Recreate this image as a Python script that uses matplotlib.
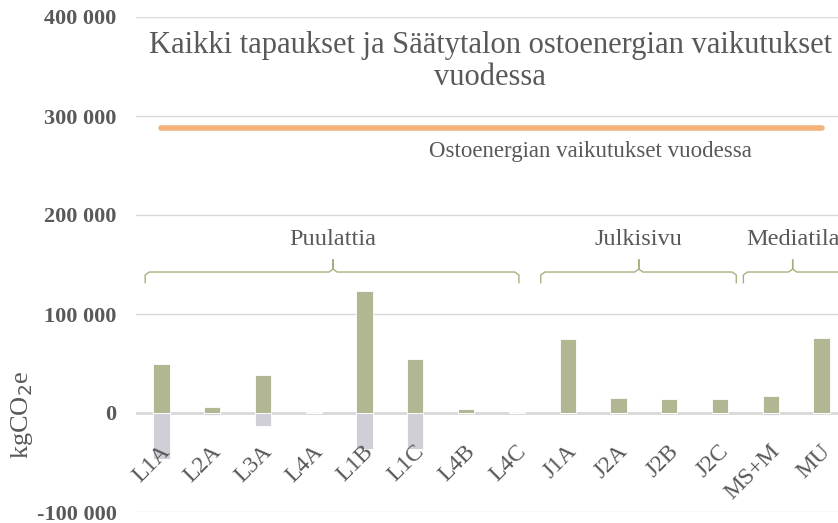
import matplotlib
matplotlib.use("Agg")
import matplotlib.pyplot as plt
import numpy as np

# Cases and their yearly emission effects (kgCO2e)
categories = ["L1A", "L2A", "L3A", "L4A", "L1B", "L1C", "L4B", "L4C",
              "J1A", "J2A", "J2B", "J2C", "MS+M", "MU"]
positive = [50000, 6000, 38700, 1300, 122800, 54500, 3600, 1300,
            75000, 15400, 14400, 13700, 16800, 75700]
negative = [-46000, -2400, -13500, 0, -36000, -36000, 0, 0,
            0, 0, 0, 0, -2000, 0]
purchased_energy = 288000  # Säätytalo purchased energy, per year

groups = ["Puulattia", "Julkisivu", "Mediatila"]
group_spans = [(-0.32, 7.04, 3.38), (7.47, 11.32, 9.40), (11.46, 13.40, 12.43)]

yticks = [-100000, 0, 100000, 200000, 300000, 400000]
ytick_labels = ["-100 000", "0", "100 000", "200 000", "300 000", "400 000"]

FONT = "Liberation Serif"
TXT = "#595959"
GREEN = "#b2b693"
GREY = "#d0cfd8"
ORANGE = "#f4b37a"
BRACE = "#a9b07f"

fig = plt.figure(figsize=(8.38, 5.23), dpi=100)
ax = fig.add_axes([136 / 838, 11 / 523, 711 / 838, 495 / 523])
ax.set_xlim(-0.5, len(categories) - 0.5)
ax.set_ylim(-100000, 400000)

x = np.arange(len(categories))
ax.bar(x, positive, width=0.32, color=GREEN, edgecolor="white", linewidth=0.6, zorder=3)
ax.bar(x, negative, width=0.32, color=GREY, edgecolor="white", linewidth=0.6, zorder=3)

# Purchased energy reference line
ax.plot([x[0], x[-1]], [purchased_energy, purchased_energy], color=ORANGE,
        lw=4, solid_capstyle="round", zorder=4)
ax.text(x[-1] - 4.55, purchased_energy - 24000, "Ostoenergian vaikutukset vuodessa",
        ha="center", va="center", fontsize=16.5, color=TXT, family=FONT)

# Gridlines and axes
for s in ax.spines.values():
    s.set_visible(False)
ax.set_yticks(yticks)
ax.set_yticklabels(ytick_labels)
ax.yaxis.grid(True, color="#d9d9d9", lw=1)
ax.axhline(0, color="#d9d9d9", lw=2, zorder=2)
ax.set_axisbelow(True)
ax.tick_params(axis="y", length=0, pad=14, labelsize=16, labelcolor=TXT)
for lbl in ax.get_yticklabels():
    lbl.set_family(FONT)
    lbl.set_fontweight("bold")

ax.set_xticks([])
for xi, name in zip(x, categories):
    ax.text(xi - 0.03, -28000, name, rotation=45, ha="right", va="top",
            rotation_mode="anchor", fontsize=17, color=TXT, family=FONT, zorder=6)

fig.text(22 / 838, 1 - 415 / 523, "kgCO$_2$e", rotation=90, ha="center", va="center",
         fontsize=19, color=TXT, family=FONT)

# Group braces
y_end, y_bar, y_peak = 131600, 142400, 154800
for name, (x0, x1, xc) in zip(groups, group_spans):
    r = 0.08
    ax.plot([x0, x0, x0 + r, xc - r, xc, xc, xc, xc + r, x1 - r, x1, x1],
            [y_end, y_bar - 3000, y_bar, y_bar, y_bar + 3000, y_peak, y_bar + 3000,
             y_bar, y_bar, y_bar - 3000, y_end],
            color=BRACE, lw=1, clip_on=False, zorder=3)
    ax.text(xc, y_peak + 20000, name, ha="center", va="center",
            fontsize=17.5, color=TXT, family=FONT)

fig.text(490 / 838, 0.883, "Kaikki tapaukset ja Säätytalon ostoenergian vaikutukset\nvuodessa",
         ha="center", va="center", fontsize=22, color=TXT, family=FONT,
         linespacing=1.15)

fig.savefig("out.png", dpi=100)
